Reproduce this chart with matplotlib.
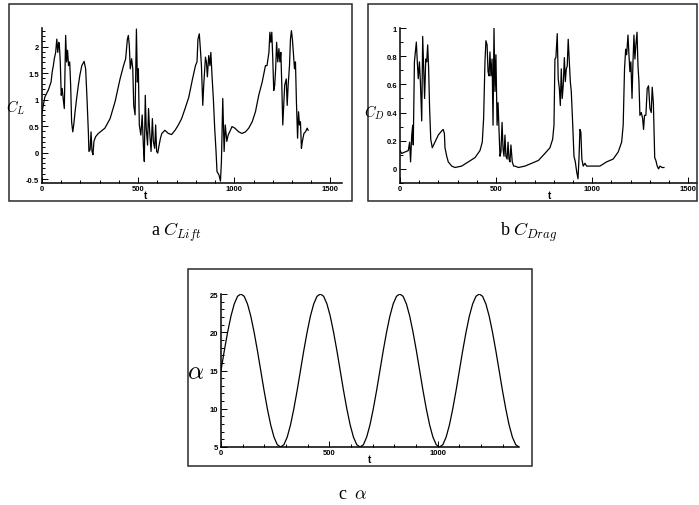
import numpy as np
import matplotlib.pyplot as plt
from matplotlib.patches import Rectangle
from matplotlib.ticker import MultipleLocator, FormatStrFormatter

plt.rcParams['mathtext.fontset'] = 'cm'
plt.rcParams['font.family'] = ['Liberation Sans', 'DejaVu Sans']

# lift coefficient
t_lift = [0, 5, 15, 33, 47, 53, 59, 64, 71, 77, 82, 87, 90, 95, 100, 105, 110, 116,
          123, 128, 133, 138, 144, 149, 154, 160, 165, 172, 180, 189, 197, 207, 219,
          227, 234, 241, 244, 250, 255, 260, 265, 270, 279, 293, 327, 354, 380, 406,
          424, 435, 444, 449, 454, 459, 466, 472, 477, 484, 491, 496, 501, 506, 514,
          521, 527, 532, 537, 542, 549, 554, 560, 567, 574, 579, 586, 591, 596, 602,
          609, 616, 623, 639, 657, 674, 692, 709, 726, 744, 763, 781, 798, 806, 811,
          818, 824, 829, 836, 841, 850, 855, 860, 867, 873, 878, 885, 891, 898, 905,
          910, 920, 928, 933, 940, 947, 953, 961, 968, 976, 988, 1003, 1023, 1040,
          1058, 1075, 1093, 1110, 1127, 1145, 1162, 1170, 1180, 1185, 1190, 1195,
          1200, 1205, 1210, 1215, 1220, 1226, 1232, 1237, 1242, 1247, 1252, 1257,
          1262, 1270, 1275, 1280, 1287, 1292, 1297, 1302, 1307, 1313, 1318, 1323,
          1329, 1334, 1339, 1344, 1349, 1354, 1362, 1370, 1379, 1384]
c_lift = [0.75, 0.86, 1.05, 1.18, 1.33, 1.52, 1.64, 1.77, 1.89, 2.14, 1.89, 2.08, 2.05,
          1.71, 1.08, 1.21, 1.02, 0.83, 2.21, 1.71, 1.93, 1.64, 1.71, 1.27, 0.58, 0.39,
          0.52, 0.77, 1.02, 1.27, 1.46, 1.64, 1.72, 1.58, 1.02, 0.39, 0.02, 0.05, 0.39,
          0.02, -0.04, 0.21, 0.30, 0.36, 0.46, 0.64, 0.96, 1.39, 1.64, 1.77, 2.14, 2.21,
          2.02, 1.58, 1.77, 1.58, 0.89, 0.71, 2.33, 1.33, 1.58, 0.52, 0.33, 0.71, 0.14,
          -0.17, 1.08, 0.46, 0.14, 0.83, 0.39, 0.02, 0.64, 0.21, 0.08, 0.52, 0.02, -0.01,
          0.14, 0.27, 0.36, 0.42, 0.36, 0.34, 0.42, 0.52, 0.64, 0.83, 1.04, 1.36, 1.64,
          1.71, 2.14, 2.24, 1.93, 1.64, 0.89, 1.27, 1.80, 1.71, 1.43, 1.83, 1.64, 1.89,
          1.39, 1.02, 0.46, 0.02, -0.36, -0.42, -0.54, -0.17, 1.02, 0.02, 0.52, 0.21,
          0.33, 0.39, 0.49, 0.46, 0.39, 0.36, 0.39, 0.46, 0.58, 0.77, 1.08, 1.33, 1.64,
          1.64, 1.89, 2.27, 2.08, 2.27, 1.77, 1.17, 1.27, 1.58, 2.08, 1.71, 1.96, 1.71,
          1.89, 1.27, 0.52, 0.89, 1.27, 1.39, 0.89, 1.27, 1.64, 2.14, 2.30, 2.14, 1.89,
          1.58, 1.71, 0.96, 0.27, 0.77, 0.52, 0.58, 0.08, 0.21, 0.36, 0.39, 0.46, 0.42]

# drag coefficient
t_drag = [0, 9, 26, 43, 50, 55, 61, 66, 69, 75, 80, 85, 90, 95, 101, 106, 113, 118, 123,
          128, 134, 139, 144, 149, 154, 160, 168, 182, 199, 217, 225, 231, 234, 243, 251,
          269, 286, 321, 355, 390, 416, 428, 435, 442, 447, 453, 458, 463, 468, 473, 479,
          484, 489, 494, 499, 505, 510, 515, 520, 525, 531, 536, 541, 546, 551, 557, 562,
          567, 572, 577, 584, 591, 598, 616, 650, 685, 720, 754, 780, 794, 801, 806, 811,
          818, 823, 829, 834, 839, 844, 849, 855, 860, 865, 870, 875, 881, 886, 891, 898,
          905, 912, 919, 926, 931, 936, 941, 946, 953, 962, 971, 988, 1014, 1040, 1075,
          1109, 1135, 1153, 1161, 1168, 1174, 1179, 1186, 1191, 1196, 1201, 1207, 1212,
          1217, 1222, 1227, 1233, 1238, 1243, 1248, 1255, 1262, 1267, 1272, 1279, 1286,
          1293, 1300, 1307, 1312, 1318, 1325, 1331, 1338, 1345, 1352, 1363, 1373]
c_drag = [0.13, 0.11, 0.12, 0.13, 0.19, 0.05, 0.24, 0.31, 0.17, 0.76, 0.83, 0.90, 0.76,
          0.64, 0.76, 0.62, 0.34, 0.94, 0.71, 0.50, 0.78, 0.76, 0.88, 0.71, 0.43, 0.21,
          0.15, 0.19, 0.24, 0.27, 0.28, 0.25, 0.15, 0.09, 0.05, 0.02, 0.01, 0.02, 0.05,
          0.08, 0.13, 0.19, 0.36, 0.76, 0.91, 0.88, 0.69, 0.66, 0.83, 0.66, 0.78, 0.31,
          1.00, 0.55, 0.81, 0.31, 0.47, 0.28, 0.09, 0.12, 0.33, 0.14, 0.09, 0.24, 0.09,
          0.07, 0.19, 0.07, 0.05, 0.17, 0.05, 0.02, 0.02, 0.01, 0.02, 0.04, 0.06, 0.11,
          0.15, 0.21, 0.31, 0.78, 0.79, 0.96, 0.64, 0.57, 0.45, 0.71, 0.50, 0.59, 0.79,
          0.62, 0.71, 0.73, 0.92, 0.76, 0.62, 0.55, 0.33, 0.09, 0.05, -0.02, -0.07, 0.07,
          0.28, 0.26, 0.07, 0.02, 0.04, 0.02, 0.02, 0.02, 0.02, 0.05, 0.07, 0.12, 0.19,
          0.31, 0.71, 0.85, 0.81, 0.95, 0.81, 0.69, 0.76, 0.50, 0.76, 0.95, 0.78, 0.88,
          0.97, 0.73, 0.62, 0.38, 0.40, 0.36, 0.28, 0.38, 0.38, 0.57, 0.59, 0.43, 0.40,
          0.58, 0.47, 0.08, 0.06, 0.02, 0.00, 0.02, 0.01, 0.01]

# angle of attack, sampled evenly from t = 0 to 1375
alpha = [15, 17.6, 20, 22.1, 23.7, 24.7, 25, 24.7, 23.7, 22.1, 20, 17.6,
         15, 12.4, 10, 7.9, 6.3, 5.3, 5, 5.3, 6.3, 7.9, 10, 12.4,
         15, 17.6, 20, 22.1, 23.7, 24.7, 25, 24.7, 23.7, 22.1, 20, 17.6,
         15, 12.4, 10, 7.9, 6.3, 5.3, 5, 5.3, 6.3, 7.9, 10, 12.4,
         15, 17.6, 20, 22.1, 23.7, 24.7, 25, 24.7, 23.7, 22.1, 20, 17.6,
         15, 12.4, 10, 7.9, 6.3, 5.3, 5, 5.3, 6.3, 7.9, 10, 12.4,
         15, 17.6, 20, 22.1, 23.7, 24.7, 25, 24.7, 23.7, 22.1, 20, 17.6,
         15, 12.4, 10, 7.9, 6.3, 5.3, 5]
t_alpha = np.linspace(0, 1375, len(alpha))

W, H = 699.0, 506.0


def px_axes(x0, y0, x1, y1):
    # pixel box (from top-left) -> figure axes
    return fig.add_axes([x0 / W, 1 - y1 / H, (x1 - x0) / W, (y1 - y0) / H])


def style(ax):
    ax.spines['top'].set_visible(False)
    ax.spines['right'].set_visible(False)
    ax.spines['left'].set_linewidth(1.1)
    ax.spines['bottom'].set_linewidth(1.1)
    ax.tick_params(which='both', direction='in', labelsize=5.5, width=0.7)
    ax.tick_params(axis='y', pad=2)
    ax.tick_params(axis='x', pad=1.5)
    ax.tick_params(which='major', length=4)
    ax.tick_params(which='minor', length=2)
    for lab in ax.get_xticklabels() + ax.get_yticklabels():
        lab.set_fontweight('bold')


def frame(x0, y0, x1, y1):
    fig.add_artist(Rectangle((x0 / W, 1 - y1 / H), (x1 - x0) / W, (y1 - y0) / H,
                             transform=fig.transFigure, fill=False,
                             edgecolor='#2a2a2a', linewidth=1.1))


fig = plt.figure(figsize=(6.99, 5.06), dpi=100)

# a: lift
ax1 = px_axes(42, 29, 342, 184)
ax1.plot(t_lift, c_lift, color='black', linewidth=0.9)
ax1.set_xlim(0, 1560)
ax1.set_ylim(-0.575, 2.35)
ax1.xaxis.set_major_locator(MultipleLocator(500))
ax1.xaxis.set_minor_locator(MultipleLocator(100))
ax1.yaxis.set_major_locator(MultipleLocator(0.5))
ax1.yaxis.set_minor_locator(MultipleLocator(0.1))
ax1.xaxis.set_major_formatter(FormatStrFormatter('%g'))
ax1.yaxis.set_major_formatter(FormatStrFormatter('%g'))
style(ax1)

# b: drag
ax2 = px_axes(400, 29, 697, 184)
ax2.plot(t_drag, c_drag, color='black', linewidth=0.9)
ax2.set_xlim(0, 1545)
ax2.set_ylim(-0.1, 1.0)
ax2.xaxis.set_major_locator(MultipleLocator(500))
ax2.xaxis.set_minor_locator(MultipleLocator(100))
ax2.yaxis.set_major_locator(MultipleLocator(0.2))
ax2.yaxis.set_minor_locator(MultipleLocator(0.1))
ax2.xaxis.set_major_formatter(FormatStrFormatter('%g'))
ax2.yaxis.set_major_formatter(FormatStrFormatter('%g'))
style(ax2)

# c: alpha
ax3 = px_axes(221, 295, 519, 448)
ax3.plot(t_alpha, alpha, color='black', linewidth=0.9)
ax3.set_xlim(0, 1375)
ax3.set_ylim(5, 25)
ax3.xaxis.set_major_locator(MultipleLocator(500))
ax3.xaxis.set_minor_locator(MultipleLocator(100))
ax3.yaxis.set_major_locator(MultipleLocator(5))
ax3.yaxis.set_minor_locator(MultipleLocator(1))
style(ax3)

frame(8.5, 5, 352, 202)
frame(367.7, 5, 697, 202)
frame(188.3, 270, 531.7, 466.7)

# axis titles
fig.text(16 / W, 1 - 108 / H, r'$C_L$', fontsize=10.5, ha='center', va='center')
fig.text(374 / W, 1 - 113 / H, r'$C_D$', fontsize=10.5, ha='center', va='center')
fig.text(196 / W, 1 - 372 / H, r'$\alpha$', fontsize=18, ha='center', va='center')
fig.text(146 / W, 1 - 196.5 / H, 't', fontsize=7, fontweight='bold', ha='center', va='center')
fig.text(549 / W, 1 - 196.5 / H, 't', fontsize=7, fontweight='bold', ha='center', va='center')
fig.text(370 / W, 1 - 460 / H, 't', fontsize=7, fontweight='bold', ha='center', va='center')

# captions
fig.text(176 / W, 1 - 232 / H, r'a $C_{Lift}$', fontsize=13, family='Liberation Serif',
         ha='center', va='center')
fig.text(529 / W, 1 - 232 / H, r'b $C_{Drag}$', fontsize=13, family='Liberation Serif',
         ha='center', va='center')
fig.text(353 / W, 1 - 495 / H, r'c  $\alpha$', fontsize=13, family='Liberation Serif',
         ha='center', va='center')

fig.savefig('out.png', dpi=100)
